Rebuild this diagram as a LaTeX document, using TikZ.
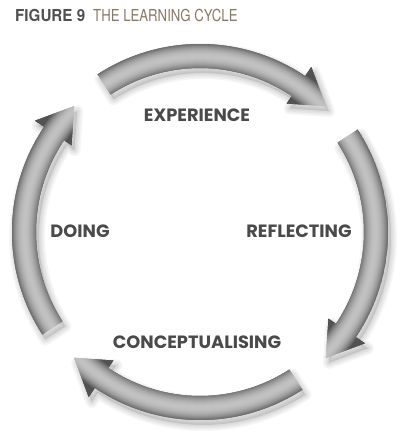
\documentclass[tikz,border=0pt]{standalone}
\usepackage{fontspec}
\newfontfamily\labfont{Poppins}
\newfontfamily\titlefont{TeX Gyre Heros}[FakeStretch=0.8]
\newfontfamily\figfont{TeX Gyre Heros}[FakeStretch=0.92]
\definecolor{labgray}{HTML}{4A4A4A}
\definecolor{figgray}{HTML}{505050}
\definecolor{titlebrown}{HTML}{8A7866}
\newcommand\cyclearrow[3]{%
  \begin{scope}[shift={(203,204)}]
    \fill[black,opacity=.10] (#1:188) arc[start angle=#1,end angle=#2,radius=188] -- (#2:199) -- (#3:178) -- (#2:155) -- (#2:164) arc[start angle=#2,end angle=#1,radius=164] -- cycle;
    \foreach \w in {3,6,9,12}{%
      \draw[black,opacity=.035,line width=\w pt,line join=round] (#1:188) arc[start angle=#1,end angle=#2,radius=188] -- (#2:199) -- (#3:178) -- (#2:155) -- (#2:164) arc[start angle=#2,end angle=#1,radius=164] -- cycle;}
  \end{scope}
  \begin{scope}[shift={(200,209)}]
    \clip (#1:188) arc[start angle=#1,end angle=#2,radius=188] -- (#2:199) -- (#3:178) -- (#2:155) -- (#2:164) arc[start angle=#2,end angle=#1,radius=164] -- cycle;
    \foreach \i in {153,153.5,...,201}{%
      \pgfmathsetmacro\dd{abs(\i-176)/12}%
      \pgfmathsetmacro\lv{max(0.32,0.76-0.32*\dd*\dd)}%
      \definecolor{shd}{gray}{\lv}%
      \draw[shd,line width=1.2pt] (0,0) circle[radius=\i];}
  \end{scope}}
\begin{document}
\begin{tikzpicture}[x=1pt,y=1pt,
  lab/.style={font=\labfont\bfseries\fontsize{17.8}{18}\selectfont,text=labgray,inner sep=0pt}]
\useasboundingbox (0,0) rectangle (400,441);
\fill[white] (0,0) rectangle (400,441);
% title
\node[anchor=base west,inner sep=0pt,font=\figfont\bfseries\fontsize{16.5}{17}\selectfont,text=figgray] (fig) at (15,419) {FIGURE 9};
\node[anchor=base west,inner sep=0pt,font=\titlefont\fontsize{16.5}{17}\selectfont,text=titlebrown] (title) at (93,419) {THE LEARNING CYCLE};
% arrows
\cyclearrow{123}{56}{45}
\cyclearrow{33}{-34}{-45}
\cyclearrow{-57}{-124}{-135}
\cyclearrow{-147}{-214}{-225}
% labels
\node[lab] (exp) at (197,325.5) {EXPERIENCE};
\node[lab] (ref) at (299,210) {REFLECTING};
\node[lab] (doi) at (80,210) {DOING};
\node[lab] (con) at (197,99) {CONCEPTUALISING};
\end{tikzpicture}
\end{document}
